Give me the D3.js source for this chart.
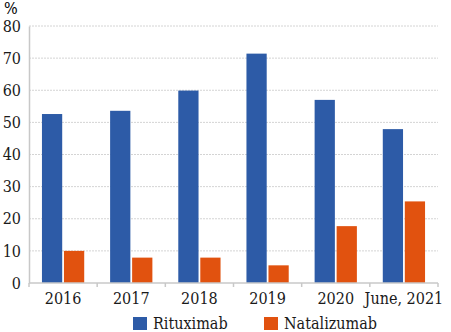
<!DOCTYPE html>
<html>
<head>
<meta charset="utf-8">
<script src="https://cdn.jsdelivr.net/npm/d3@7"></script>
<style>
  body { margin: 0; background: #fff; }
</style>
</head>
<body>
<div id="chart"></div>
<script>
// data
const categories = ["2016", "2017", "2018", "2019", "2020", "June, 2021"];
const seriesNames = ["Rituximab", "Natalizumab"];
const rituximab = [52.6, 53.6, 59.9, 71.4, 57.0, 47.9];
const natalizumab = [10.0, 7.9, 7.9, 5.5, 17.7, 25.4];
const yTicks = [0, 10, 20, 30, 40, 50, 60, 70, 80];
const colors = ["#2d5ba7", "#e1520f"];

const FONT = "'DejaVu Serif Condensed', 'DejaVu Serif', serif";
const FS = 16;
const W = 451, H = 332;
const m = { top: 26, right: 13, bottom: 49, left: 29 };
const innerW = W - m.left - m.right, innerH = H - m.top - m.bottom;

const svg = d3.select("#chart").append("svg").attr("width", W).attr("height", H);
const g = svg.append("g").attr("transform", `translate(${m.left},${m.top})`);

const x = d3.scaleBand().domain(categories).range([0, innerW]).paddingInner(0.38).paddingOuter(0.19);
const xs = d3.scaleBand().domain(seriesNames).range([0, x.bandwidth()]).paddingInner(0.08);
const y = d3.scaleLinear().domain([0, 80]).range([innerH, 0]);

// dotted gridlines
g.append("g").selectAll("line")
  .data(yTicks.filter(d => d > 0))
  .join("line")
  .attr("x1", 0).attr("x2", innerW)
  .attr("y1", d => y(d)).attr("y2", d => y(d))
  .attr("stroke", "#d4d4d4").attr("stroke-width", 1)
  .attr("stroke-dasharray", "2,1");

// y axis
const yAx = g.append("g")
  .call(d3.axisLeft(y).tickValues(yTicks).tickSize(0).tickPadding(8))
  .attr("font-family", FONT).attr("font-size", FS);
yAx.select(".domain").attr("stroke", "#c8c8c8").attr("stroke-width", 1.5);
yAx.selectAll("text").attr("fill", "#1a1a1a");

svg.append("text").attr("x", 4).attr("y", 14)
  .attr("font-family", FONT).attr("font-size", FS).text("%");

// bars
const data = categories.map((c, i) => ({ cat: c, vals: [rituximab[i], natalizumab[i]] }));
g.selectAll(".grp").data(data).join("g")
  .attr("transform", d => `translate(${x(d.cat)},0)`)
  .selectAll("rect")
  .data(d => d.vals.map((v, j) => ({ name: seriesNames[j], v, j })))
  .join("rect")
  .attr("x", d => xs(d.name))
  .attr("y", d => y(d.v))
  .attr("width", xs.bandwidth())
  .attr("height", d => innerH - y(d.v))
  .attr("fill", d => colors[d.j]);

// x axis
const step = x.step();
const xAx = g.append("g").attr("transform", `translate(0,${innerH})`);
xAx.append("line").attr("x1", 0).attr("x2", innerW).attr("stroke", "#c8c8c8").attr("stroke-width", 1.5);
xAx.selectAll(".tk").data(d3.range(categories.length + 1)).join("line")
  .attr("x1", i => i * step).attr("x2", i => i * step)
  .attr("y1", 0).attr("y2", 4).attr("stroke", "#c8c8c8").attr("stroke-width", 1.5);
xAx.selectAll(".lbl").data(categories).join("text")
  .attr("x", d => x(d) + x.bandwidth() / 2)
  .attr("y", 21)
  .attr("text-anchor", "middle")
  .attr("fill", "#1a1a1a")
  .attr("font-family", FONT).attr("font-size", FS)
  .text(d => d);

// legend
const legend = svg.append("g").attr("transform", `translate(133,317)`);
const legX = [0, 131];
seriesNames.forEach((n, i) => {
  legend.append("rect").attr("x", legX[i]).attr("y", 0).attr("width", 14).attr("height", 13).attr("fill", colors[i]);
  legend.append("text").attr("x", legX[i] + 20).attr("y", 12).attr("fill", "#1a1a1a")
    .attr("font-family", FONT).attr("font-size", FS).text(n);
});
</script>
</body>
</html>
